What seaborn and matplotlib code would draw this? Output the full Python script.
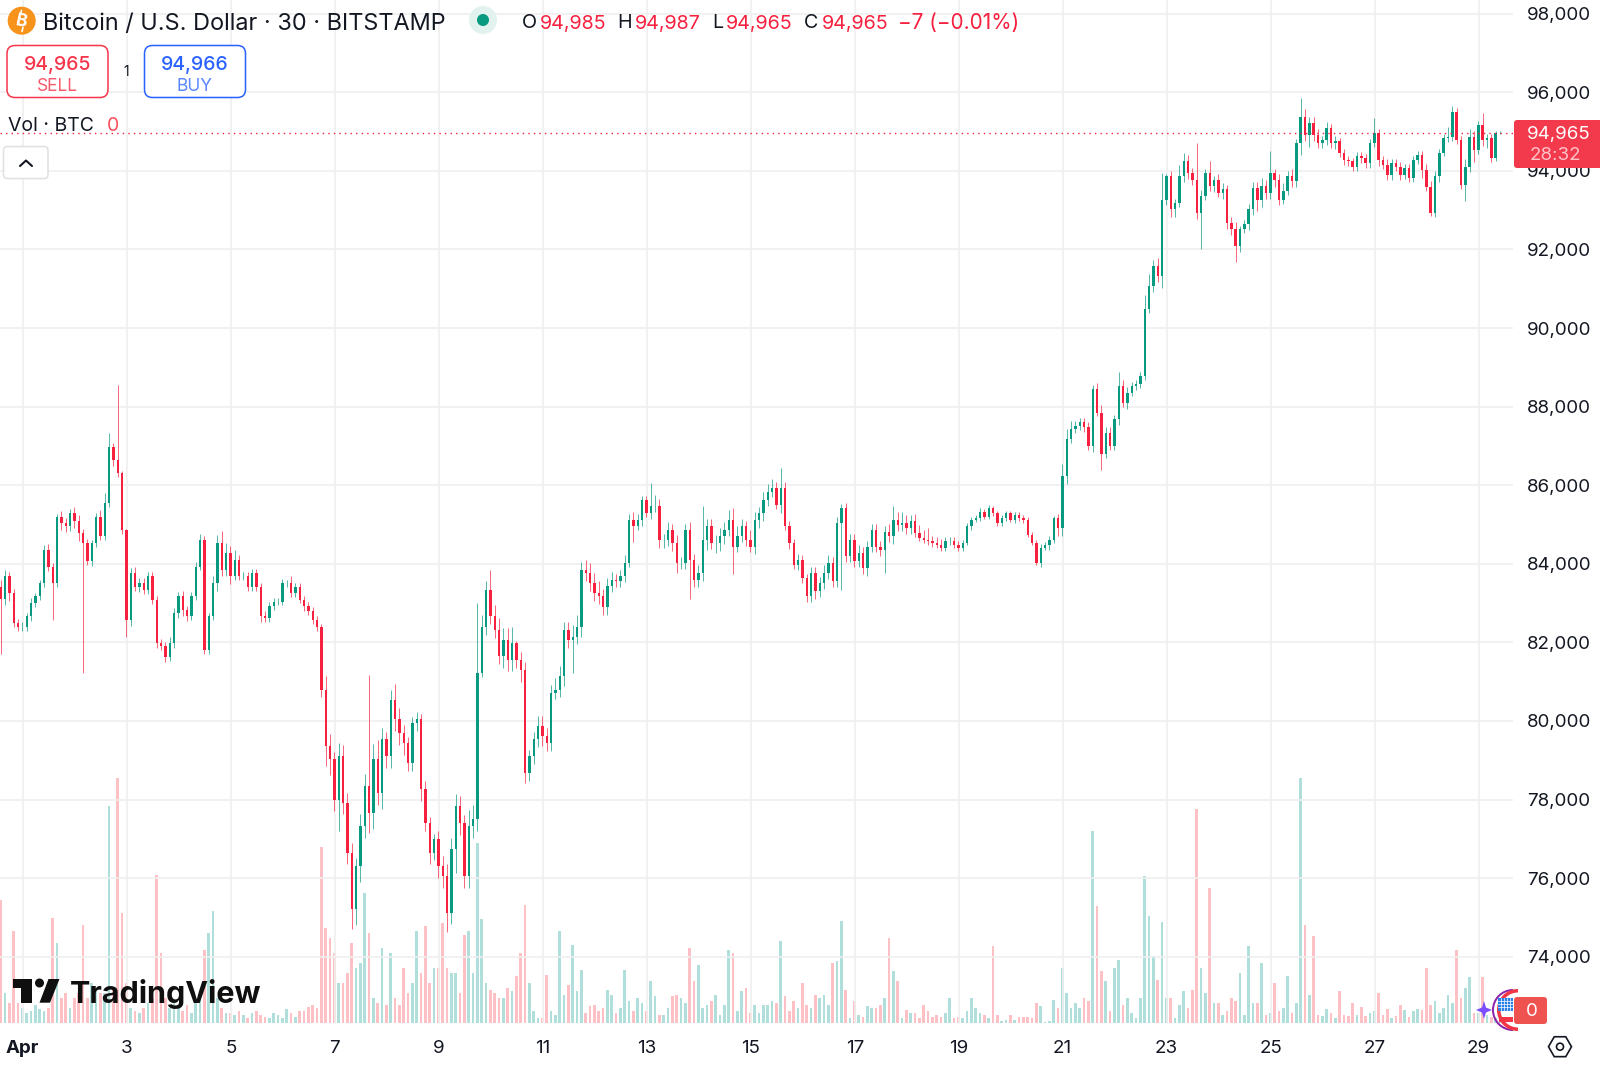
import numpy as np
import pandas as pd
import seaborn as sns
import matplotlib
matplotlib.use("Agg")
import matplotlib.pyplot as plt
from matplotlib.patches import Circle, FancyBboxPatch, Polygon, Rectangle, RegularPolygon, Wedge

# 2 hour candles, Apr 1 = day 0
closes = [
    83100,83680,83250,82500,82400,82400,82660,83000,83170,83500,84350,83930,83500,85200,85030,84950,85290,85100,84780,84520,
    84060,84520,85200,84700,85540,86980,86640,86300,84860,82580,83760,83420,83500,83340,83680,83090,81980,81900,81640,81980,
    82750,83170,82830,82660,83170,83930,84610,81810,82660,83500,84530,83850,84270,83680,84100,83680,83680,83420,83760,83420,
    82660,82620,82920,83040,83040,83500,83500,83250,83420,83090,82920,82790,82580,82400,
    80800,79360,79020,78000,79100,77920,76650,75210,76310,77330,78340,77660,79020,78170,79530,79100,80540,80040,79700,79440,
    78930,79950,80040,78260,77410,76650,77000,76310,76050,75120,76730,77830,77410,76050,77330,77500,81220,82400,83340,82660,
    82320,81650,82070,81560,81980,81560,81300,78680,79100,79530,79870,79610,79440,80710,80800,81140,82320,82070,82150,82400,
    83850,83760,83510,83250,83170,
    82900,83430,83600,83550,83680,84020,85120,84950,85120,85630,85290,85460,85460,84610,84610,84860,84530,84020,84020,84860,
    84100,83600,83770,84610,84950,84530,84530,84700,84860,85120,84440,84700,84950,84610,84440,85120,85290,85630,85840,85920,
    85500,85920,84950,84530,83980,84100,83640,83170,83770,83300,83510,83770,84020,83550,85030,85410,84190,84610,84060,84270,
    83890,84440,84860,84440,84360,84820,84700,85120,84990,85030,84910,85080,84780,84650,84610,84570,84530,84480,84400,84570,
    84570,84480,84400,84530,84950,85120,85160,85330,85200,85420,85290,85030,85160,85290,85120,85250,85160,85120,84740,84530,
    84020,84400,84480,84610,85160,
    84900,86240,87170,87430,87510,87600,87470,87000,88440,87850,86790,87340,87000,87680,88530,88100,88360,88530,88570,88780,
    90480,91070,91580,91320,93270,93860,93020,93190,93860,94250,93950,93780,92930,93360,93950,93610,93780,93440,93530,92680,
    92510,92090,92510,92640,93020,93570,93270,93610,93440,93950,93780,93270,93480,93860,93740,
    94700,95380,94920,95210,94920,94700,94790,95090,94700,94750,94450,94280,94240,94110,94370,94320,94200,94700,94960,94280,
    94150,93900,94200,94110,93900,94070,93810,94280,94410,94030,93600,92930,93860,94450,94830,94870,95510,94790,93640,94110,
    94870,94530,95170,94790,94830,94320,94960,94965,
]
wick_up = [
    200,150,120,100,90,110,100,120,80,100,120,150,100,60,150,130,110,160,140,110,
    120,90,100,180,250,340,100,1900,50,30,130,150,150,150,120,100,80,100,100,150,
    120,100,150,100,100,120,150,100,100,200,200,300,250,180,250,120,100,120,100,120,
    100,150,120,100,100,120,100,200,100,80,100,100,120,100,60,350,300,200,350,300,
    250,250,200,300,300,2840,400,500,300,200,250,400,300,200,150,150,200,150,200,150,
    120,200,250,300,300,300,250,200,400,350,1780,300,210,500,300,300,300,300,400,60,
    200,200,150,200,250,250,200,200,300,250,200,200,300,300,200,250,250,250,300,200,
    200,200,150,150,200,150,200,150,100,100,590,300,200,150,200,150,200,150,150,200,
    150,200,850,200,200,200,200,200,250,300,250,200,150,250,200,150,200,200,250,150,
    510,150,150,100,150,120,100,150,150,150,200,200,150,150,100,150,150,150,200,150,
    150,150,150,150,150,200,340,200,300,200,150,200,200,200,300,150,150,150,100,100,
    100,100,80,80,80,80,80,70,80,60,60,80,60,60,70,60,80,60,60,80,
    100,80,100,60,100,300,250,200,120,100,120,150,100,150,200,150,150,100,350,150,
    150,100,120,100,350,300,150,200,680,50,150,100,300,200,150,120,930,150,100,300,
    100,150,150,100,150,200,100,100,150,150,150,200,150,550,100,150,200,150,200,100,
    470,200,150,150,150,100,150,100,150,100,120,100,100,100,120,100,120,380,100,100,
    150,100,100,120,100,100,100,100,100,150,150,150,100,100,250,150,80,100,200,200,
    150,100,300,100,100,60,40,
]
wick_dn = [
    1400,150,200,100,100,100,100,120,100,100,100,120,920,100,180,150,120,180,200,3300,
    100,120,100,100,100,100,150,100,100,430,150,120,150,120,100,120,120,100,150,120,
    120,120,150,120,100,100,100,100,100,100,200,150,150,200,100,100,100,100,100,100,
    150,100,100,100,100,100,80,100,100,100,120,100,100,120,200,500,400,300,800,300,
    300,500,400,400,300,500,400,300,400,300,300,300,300,300,200,200,200,300,200,300,
    200,300,300,500,300,600,300,300,300,300,300,100,200,200,200,200,300,300,300,200,
    300,250,200,200,200,250,200,200,150,200,250,200,850,200,250,200,200,200,200,200,
    200,150,150,150,150,100,400,100,150,100,150,150,200,200,150,200,250,150,150,1000,
    200,200,200,250,150,250,200,200,150,700,150,150,150,150,200,200,200,150,150,100,
    200,100,150,100,150,120,150,150,200,150,150,150,150,150,1700,150,150,150,150,150,
    200,150,150,150,600,150,200,150,150,150,150,100,80,80,100,100,80,80,80,80,
    80,80,80,60,80,60,60,60,60,80,60,60,60,60,70,60,70,60,60,60,
    100,60,120,80,200,200,200,100,100,100,120,100,150,100,400,100,100,100,150,100,
    150,100,100,100,100,100,150,150,300,150,200,200,100,150,150,150,150,930,100,120,
    150,100,150,150,150,400,150,100,150,150,300,200,150,150,200,150,100,100,150,150,
    300,150,300,150,120,120,120,120,150,100,120,120,120,100,120,120,120,100,150,100,
    120,120,100,120,100,100,100,100,200,100,80,100,150,60,100,100,100,100,400,150,
    300,100,150,200,100,60,30,
]
volumes = [
    123,30,20,92,20,15,10,12,18,14,12,15,105,80,25,30,15,25,30,98,
    25,40,35,30,30,217,35,245,110,40,15,12,10,15,20,25,148,70,25,15,
    22,18,12,18,10,22,30,73,90,112,25,15,10,10,8,12,8,5,10,12,
    8,6,5,10,8,5,14,10,6,12,12,16,18,15,176,95,85,70,40,40,
    50,80,55,60,130,90,25,20,75,18,70,25,18,55,30,40,92,50,97,40,
    55,55,100,55,50,50,30,88,92,50,180,104,40,33,30,25,25,35,32,47,
    70,118,40,12,5,5,48,12,8,92,28,38,78,32,53,10,17,18,12,15,
    33,28,10,15,53,22,12,25,20,12,42,27,8,8,15,27,28,25,20,75,
    42,58,15,18,22,28,8,18,73,70,12,32,35,10,18,10,18,18,22,20,
    82,27,12,22,15,40,18,15,28,25,28,18,60,62,102,33,5,22,8,6,
    17,15,15,18,25,85,52,42,5,13,10,10,5,18,12,6,8,6,10,25,
    5,6,5,12,25,15,10,8,5,77,8,2,3,8,3,6,6,6,5,20,
    17,1,2,23,15,55,30,15,20,15,25,22,192,117,52,42,12,55,63,18,
    25,10,5,25,147,107,67,43,101,25,25,5,18,32,15,33,214,55,30,135,
    20,20,8,12,25,22,50,8,77,20,20,60,8,10,40,12,15,47,10,20,
    245,98,28,87,8,7,14,10,5,32,8,7,20,8,16,7,10,12,30,8,
    14,5,7,18,13,6,12,14,13,55,18,22,10,15,28,20,73,25,35,46,
    10,10,46,8,6,5,3,
]

price_ticks = [74000, 76000, 78000, 80000, 82000, 84000, 86000, 88000, 90000, 92000, 94000, 96000, 98000]
day_ticks = [0, 2, 4, 6, 8, 10, 12, 14, 16, 18, 20, 22, 24, 26, 28]
day_labels = ["Apr", "3", "5", "7", "9", "11", "13", "15", "17", "19", "21", "23", "25", "27", "29"]
last_price = 94965

GREEN = "#089981"
RED = "#f7213f"
FONT = "Inter"

assert len(closes) == len(wick_up) == len(wick_dn) == len(volumes), (len(closes), len(wick_up), len(wick_dn), len(volumes))

sns.set_theme(style="white")
plt.rcParams["font.family"] = [FONT, "DejaVu Sans"]

df = pd.DataFrame({"close": closes, "up": wick_up, "dn": wick_dn, "vol": volumes})
df["day"] = 28.41 - (len(df) - 1 - df.index) * 2 / 24
df["open"] = df["close"].shift(1).fillna(83400)
df["top"] = df[["open", "close"]].max(axis=1)
df["bottom"] = df[["open", "close"]].min(axis=1)
df["high"] = df["top"] + df["up"]
df["low"] = df["bottom"] - df["dn"]
df["dir"] = np.where(df["close"] >= df["open"], "up", "down")

fig = plt.figure(figsize=(16, 10.66), dpi=100)
rect = [0, 43 / 1066, 1513 / 1600, 1023 / 1066]
xlim = (-0.4365, 28.66)

# volume sits underneath, own scale
ax_vol = fig.add_axes(rect)
sns.barplot(data=df, x="day", y="vol", hue="dir", native_scale=True, dodge=False, width=0.55,
            palette={"up": "#26a69a", "down": "#f7525f"}, alpha=0.36, saturation=1, linewidth=0,
            errorbar=None, legend=False, ax=ax_vol)
ax_vol.set_xlim(*xlim)
ax_vol.set_ylim(0, 1023)
ax_vol.set_xlabel("")
ax_vol.set_ylabel("")
ax_vol.set_xticks([])
ax_vol.set_yticks([])
sns.despine(ax=ax_vol, left=True, bottom=True)

ax = fig.add_axes(rect)
ax.patch.set_alpha(0)
colors = df["dir"].map({"up": GREEN, "down": RED})
ax.vlines(df["day"], df["low"], df["high"], colors=colors, linewidth=0.7, alpha=0.7)
ax.bar(df["day"], df["top"] - df["bottom"], bottom=df["bottom"], width=0.045, color=colors, linewidth=0)
ax.axhline(last_price, color=RED, linewidth=1, linestyle=(0, (1, 3)))

ax.set_xlim(*xlim)
ax.set_ylim(72313, 98350)
ax.yaxis.tick_right()
ax.set_yticks(price_ticks)
ax.set_yticklabels([f"{p:,}" for p in price_ticks])
ax.set_xticks(day_ticks)
ax.set_xticklabels(day_labels)
ax.tick_params(axis="y", length=0, pad=10, labelsize=13.5, labelcolor="#131722")
ax.tick_params(axis="x", length=0, pad=12.5, labelsize=13.5, labelcolor="#131722")
ax.get_xticklabels()[0].set_fontweight("bold")
ax.grid(True, color="#efefef", linewidth=1.2)
ax.set_axisbelow(True)
sns.despine(ax=ax, left=True, bottom=True)

# everything around the chart, in screen pixels
ui = fig.add_axes([0, 0, 1, 1], facecolor="none")
ui.set_xlim(0, 1600)
ui.set_ylim(1066, 0)
ui.axis("off")

# header, the coin logo is a B with the two little bars
ui.add_patch(Circle((21.7, 20.7), 14, color="#f7931a", linewidth=0))
ui.text(21.7, 22, "B", color="white", ha="center", va="center", fontsize=12.5, fontweight="bold", rotation=-12)
ui.plot([21.5, 20.5], [10.5, 14.5], color="white", linewidth=1.2)
ui.plot([23, 22], [27.5, 31.5], color="white", linewidth=1.2)
ui.text(43, 24, "Bitcoin / U.S. Dollar · 30 · BITSTAMP", color="#131722", va="center", fontsize=16.9)
ui.add_patch(Circle((483, 20), 14, color="#e2f2ee", linewidth=0))
ui.add_patch(Circle((483, 20), 6, color=GREEN, linewidth=0))
for x, s, c, size in [(522, "O", "#131722", 14.2), (540, "94,985", RED, 14.2), (617, "H", "#131722", 14.2),
                      (635, "94,987", RED, 14.2), (712, "L", "#131722", 14.2), (726, "94,965", RED, 14.2),
                      (804, "C", "#131722", 14.2), (822, "94,965", RED, 14.2), (898, "−7 (−0.01%)", RED, 14.9)]:
    ui.text(x, 23.5, s, color=c, va="center", fontsize=size)

# sell / buy buttons
for x0, price, word, edge, soft in [(7, "94,965", "SELL", "#f7354b", "#f9596c"), (144.5, "94,966", "BUY", "#2962ff", "#5a86ff")]:
    ui.add_patch(FancyBboxPatch((x0 + 8, 53.5), 85, 36, boxstyle="round,pad=8,rounding_size=8",
                                facecolor="white", edgecolor=edge, linewidth=1.1))
    ui.text(x0 + 50.5, 64.5, price, color=edge, ha="center", va="center", fontsize=14, fontweight="medium")
    ui.text(x0 + 50.5, 86.5, word, color=soft, ha="center", va="center", fontsize=12.5)
ui.text(126, 72, "1", color="#131722", ha="center", va="center", fontsize=10)

ui.text(8, 126, "Vol · BTC", color="#131722", va="center", fontsize=14)
ui.text(107, 126, "0", color="#f7525f", va="center", fontsize=14)

# collapse button
ui.add_patch(FancyBboxPatch((7.5, 150.5), 36.5, 24, boxstyle="round,pad=4,rounding_size=4",
                            facecolor="white", edgecolor="#e0e0e0", linewidth=1.1))
ui.plot([20, 26, 32], [166, 160.5, 166], color="#131722", linewidth=1.5, solid_capstyle="round")

# last price tag
ui.add_patch(FancyBboxPatch((1518, 124), 90, 40, boxstyle="round,pad=4,rounding_size=3",
                            facecolor="#f23a4c", edgecolor="none"))
ui.text(1559, 134, "94,965", color="white", ha="center", va="center", fontsize=13.5)
ui.text(1555, 156, "28:32", color="#ffc2c8", ha="center", va="center", fontsize=13.5)

# logo
ui.add_patch(Rectangle((12.7, 979), 19, 9, color="#0f0f0f", linewidth=0))
ui.add_patch(Rectangle((20.7, 979), 11, 23.7, color="#0f0f0f", linewidth=0))
ui.add_patch(Circle((39.5, 983), 4.5, color="#0f0f0f", linewidth=0))
ui.add_patch(Polygon([(39.5, 1002.7), (50, 1002.7), (59.5, 979), (48.5, 979)], color="#0f0f0f", linewidth=0))
ui.text(70, 994, "TradingView", color="#0f0f0f", va="center", fontsize=22, fontweight="bold")

# little badge bottom right
ui.add_patch(Wedge((1513, 1010), 21, 90, 270, width=2, color="#8e24aa", linewidth=0))
ui.add_patch(Wedge((1518, 1010), 21, 90, 270, width=3.5, color="#f23645", linewidth=0))
ui.add_patch(Rectangle((1498, 998), 15, 13, color="#2a80e6", linewidth=0))
for gx in [1501, 1504, 1507, 1510]:
    ui.plot([gx, gx], [998, 1011], color="white", linewidth=0.5)
for gy in [1001, 1004, 1007]:
    ui.plot([1498, 1513], [gy, gy], color="white", linewidth=0.5)
ui.add_patch(Rectangle((1499, 1017), 14, 5, color="#f23645", linewidth=0))
ui.add_patch(Polygon([(1484, 1001), (1486, 1007.5), (1492, 1010), (1486, 1012.5), (1484, 1019),
                      (1482, 1012.5), (1476, 1010), (1482, 1007.5)], color="#7c4dff", linewidth=0))
ui.add_patch(FancyBboxPatch((1517, 1000), 27, 21, boxstyle="round,pad=3,rounding_size=3",
                            facecolor="#ef5350", edgecolor="none"))
ui.text(1532, 1011, "0", color="white", ha="center", va="center", fontsize=13.5)

# settings hexagon
ui.add_patch(RegularPolygon((1560, 1046.7), 6, radius=11.5, orientation=np.pi / 6, facecolor="none",
                            edgecolor="#131722", linewidth=1.2))
ui.add_patch(Circle((1560, 1046.7), 3.5, facecolor="none", edgecolor="#131722", linewidth=1.2))

fig.savefig("out.png", dpi=100)
